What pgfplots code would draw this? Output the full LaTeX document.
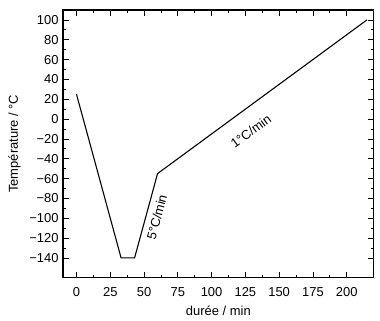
\documentclass[border=0pt]{standalone}
\usepackage{fontspec}
\setmainfont{Liberation Sans}
\usepackage{pgfplots}
\pgfplotsset{compat=1.18}
\begin{document}
\begin{tikzpicture}
\begin{axis}[
  name=ax, at={(0,0)}, anchor=south west,
  scale only axis, width=310.7bp, height=267.7bp,
  xmin=-10, xmax=220, ymin=-160, ymax=110,
  xtick={0,25,...,200},
  ytick={-140,-120,...,100},
  yticklabels={−140,−120,−100,−80,−60,−40,−20,0,20,40,60,80,100},
  minor x tick num=1, minor y tick num=1,
  tick align=inside,
  major tick length=6bp, minor tick length=3bp,
  axis line style={line width=1.6pt},
  every tick/.style={black, line width=0.7pt},
  tick label style={font=\fontsize{13}{15}\selectfont},
  label style={font=\fontsize{13}{15}\selectfont},
  xticklabel style={yshift=-6bp},
  yticklabel style={xshift=-1bp},
  /pgf/number format/assume math mode=true,
  xlabel={durée / min},
  ylabel={Température / °C},
  xlabel style={yshift=-3bp},
  ylabel style={yshift=2bp},
]
\addplot[black, line width=1.1pt] coordinates {(0,25) (33,-140) (43,-140) (60,-55) (215,100)};
\node[rotate=75, font=\fontsize{13}{15}\selectfont] at (axis cs:59.5,-99) {5°C/min};
\node[rotate=36, font=\fontsize{13}{15}\selectfont] at (axis cs:129,-12) {1°C/min};
\end{axis}
\path (-63bp,-43.3bp) rectangle (317bp,277.7bp);
\end{tikzpicture}
\end{document}
